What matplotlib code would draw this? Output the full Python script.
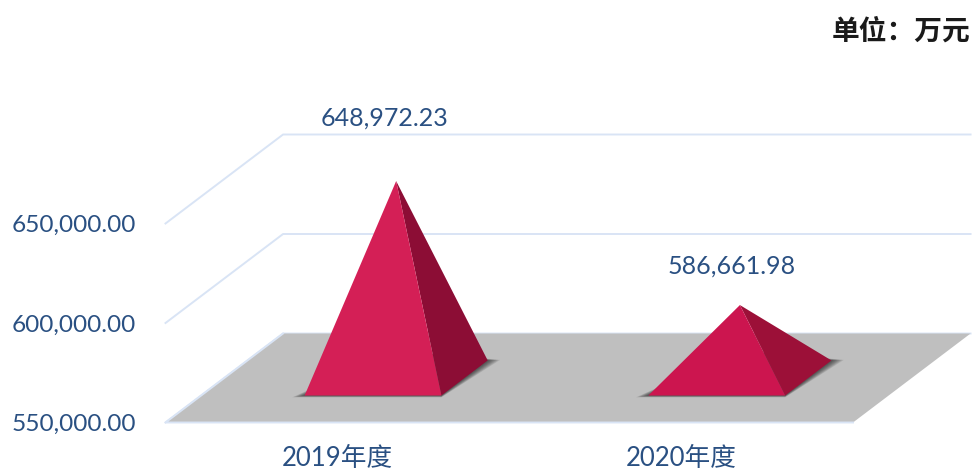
import matplotlib
matplotlib.use('Agg')
import matplotlib.pyplot as plt
from matplotlib.patches import Polygon

plt.rcParams['font.family'] = ['Lato', 'Noto Sans CJK SC', 'DejaVu Sans']

# data
categories = ['2019年度', '2020年度']
values = [648972.23, 586661.98]
value_labels = ['648,972.23', '586,661.98']
y_ticks = [550000, 600000, 650000]
y_tick_labels = ['550,000.00', '600,000.00', '650,000.00']

# styles
text_col = '#2a5082'
grid_col = '#d9e4f5'
floor_col = '#bfbfbf'
front_cols = ['#d41f56', '#cc154f']
side_cols = ['#8c0d35', '#9c1038']
label_offsets = [(-12, 63), (-8, 39)]  # px from apex

# oblique projection, depth 0 = front of the floor, 1 = back
depth_dx = 0.342
depth_dy = 44724
half_w = 0.199
half_d = 0.197
y_base = y_ticks[0]
y_top = y_ticks[-1]


def proj(cat, val, depth):
    return (cat + depth * depth_dx, val + depth * depth_dy)


fig = plt.figure(figsize=(9.73, 4.70), dpi=100)
ax = fig.add_axes([165.5 / 973, 47.5 / 470, 687.5 / 973, 199 / 470])
ax.set_xlim(-0.5, 1.5)
ax.set_ylim(y_base, y_top)
ax.patch.set_visible(False)
for s in ax.spines.values():
    s.set_visible(False)

# gridlines on the wall
for t in y_ticks:
    p0 = proj(-0.5, t, 0)
    p1 = proj(-0.5, t, 1)
    p2 = proj(1.5, t, 1)
    ax.plot([p0[0], p1[0], p2[0]], [p0[1], p1[1], p2[1]], color=grid_col, lw=1.4,
            clip_on=False, zorder=1)

# floor
floor = [proj(-0.5, y_base, 0), proj(1.5, y_base, 0), proj(1.5, y_base, 1), proj(-0.5, y_base, 1)]
ax.add_patch(Polygon(floor, closed=True, fc=floor_col, ec='none', clip_on=False, zorder=2))
ax.plot([floor[3][0], floor[0][0], floor[1][0]], [floor[3][1], floor[0][1], floor[1][1]],
        color=grid_col, lw=1.4, clip_on=False, zorder=2)

# pyramids
for i, val in enumerate(values):
    fl = proj(i - half_w, y_base, 0.5 - half_d)
    fr = proj(i + half_w, y_base, 0.5 - half_d)
    br = proj(i + half_w, y_base, 0.5 + half_d)
    apex = proj(i, val, 0.5)

    # soft shadow on the floor, stacked thin layers
    low = proj(i, y_base + 14000, 0.5)
    for k in range(1, 9):
        ext = 0.036 * k / 8
        lift = 900 * (k / 8)
        shadow = [(fl[0] - ext, fl[1] - lift), (fr[0], fr[1] - lift),
                  (br[0] + ext, br[1] + lift * 0.3), low]
        ax.add_patch(Polygon(shadow, closed=True, fc='black', ec='none', alpha=0.09,
                             clip_on=False, zorder=3))

    ax.add_patch(Polygon([fr, br, apex], closed=True, fc=side_cols[i], ec='none',
                         clip_on=False, zorder=4))
    ax.add_patch(Polygon([fl, fr, apex], closed=True, fc=front_cols[i], ec='none',
                         clip_on=False, zorder=5))

    ox, oy = label_offsets[i]
    ax.annotate(value_labels[i], apex, xytext=(ox * 0.72, oy * 0.72), textcoords='offset points',
                ha='center', va='center', fontsize=18, color=text_col, zorder=6,
                annotation_clip=False)

# axis labels
ax.set_yticks(y_ticks)
ax.set_yticklabels(y_tick_labels, fontsize=17.6, color=text_col)
ax.set_xticks(range(len(categories)))
ax.set_xticklabels(categories, fontsize=18.5, color=text_col)
ax.tick_params(axis='y', length=0, pad=21)
ax.tick_params(axis='x', length=0, pad=17)

fig.text(970 / 973, 1 - 32 / 470, '单位：万元', ha='right', va='center', fontsize=20,
         family=['Noto Sans CJK SC', 'DejaVu Sans'], weight='bold', color='#1a1a1a')

fig.savefig('out.png', dpi=100)
